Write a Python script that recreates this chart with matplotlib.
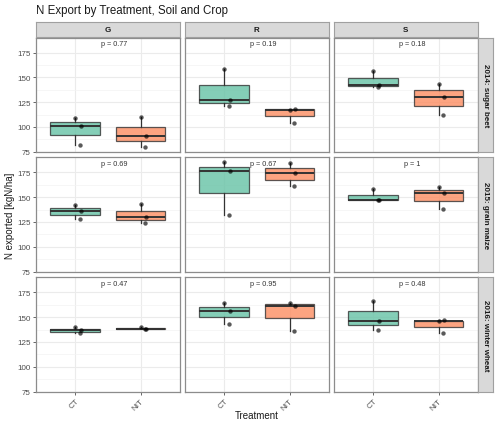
# Boxplots de N exportado por tratamiento, suelo y cultivo (facet grid estilo ggplot)
import matplotlib
matplotlib.use("Agg")
import matplotlib.pyplot as plt
import numpy as np

plt.rcParams['font.family'] = ['Liberation Sans', 'DejaVu Sans']

# Datos (3 repeticiones por caja)
soils = ["G", "R", "S"]
crops = ["2014: sugar beet", "2015: grain maize", "2016: winter wheat"]
treatments = ["CT", "NIT"]

ct_2014 = [[109, 101, 82], [158.2, 127, 120.7], [156.5, 142.8, 140.4]]
nit_2014 = [[110, 90.8, 80], [117.6, 118, 104], [143.4, 130.3, 111.6]]
ct_2015 = [[142, 136.2, 127.7], [185.8, 176, 132], [158, 147, 147.2]]
nit_2015 = [[143, 130, 124], [185, 174.3, 161], [160, 154, 138.2]]
ct_2016 = [[140.4, 136.7, 133.6], [164.4, 156.7, 143.5], [165.9, 146.5, 137.4]]
nit_2016 = [[140.2, 137.7, 138.5], [164.1, 161.8, 136.4], [146.5, 146.7, 134.3]]

ct_values = [ct_2014, ct_2015, ct_2016]
nit_values = [nit_2014, nit_2015, nit_2016]

p_values = [["p = 0.77", "p = 0.19", "p = 0.18"],
            ["p = 0.69", "p = 0.67", "p = 1"],
            ["p = 0.47", "p = 0.95", "p = 0.48"]]

colors = ["#66c2a5", "#fc8d62"]
jitter = [0.0, 0.09, 0.07]

W, H = 500, 427
fig = plt.figure(figsize=(W / 100, H / 100), dpi=100)


def px_axes(x0, y0, w, h):
    return fig.add_axes([x0 / W, 1 - (y0 + h) / H, w / W, h / H])


col_x = [36, 185, 334]
row_y = [38.5, 158.3, 278.3]
pw, ph = 143.7, 114.5

for i in range(3):
    for j in range(3):
        ax = px_axes(col_x[j], row_y[i], pw, ph)
        data = [ct_values[i][j], nit_values[i][j]]
        bp = ax.boxplot(data, positions=[1, 2], widths=0.76, patch_artist=True,
                        showfliers=False, whis=1.5, showcaps=False,
                        medianprops=dict(color="#333333", linewidth=1.4),
                        whiskerprops=dict(color="#333333", linewidth=0.9),
                        boxprops=dict(edgecolor="#333333", linewidth=0.9),
                        zorder=3)
        for patch, c in zip(bp["boxes"], colors):
            patch.set_facecolor(c)
            patch.set_alpha(0.8)
            patch.set_edgecolor("#333333")
        for k, vals in enumerate(data):
            xs = [k + 1 + jitter[m] for m in range(len(vals))]
            ax.scatter(xs, vals, s=10, color="black", alpha=0.65,
                       linewidths=0, zorder=4)
        ax.text(1.6, 184, p_values[i][j], ha="center", va="center",
                fontsize=5.2, color="#333333")

        ax.set_xlim(0.4, 2.6)
        ax.set_ylim(74.7, 190.3)
        ax.set_yticks([75, 100, 125, 150, 175])
        ax.set_yticks([87.5, 112.5, 137.5, 162.5], minor=True)
        ax.set_xticks([1, 2])
        ax.grid(True, which="major", color="#ebebeb", linewidth=0.8, zorder=0)
        ax.grid(True, which="minor", axis="y", color="#f3f3f3",
                linewidth=0.5, zorder=0)
        ax.set_axisbelow(True)
        for sp in ax.spines.values():
            sp.set_color("#8c8c8c")
            sp.set_linewidth(0.9)
        ax.tick_params(which="minor", length=0)
        ax.tick_params(which="major", length=2.5, width=0.6, color="#4d4d4d",
                       labelsize=5.8, labelcolor="#4d4d4d", pad=1.5)
        if j > 0:
            ax.tick_params(axis="y", length=0, labelleft=False)
        if i < 2:
            ax.tick_params(axis="x", length=0, labelbottom=False)
        else:
            ax.set_xticklabels(treatments, rotation=45, ha="right",
                               rotation_mode="anchor")

# Tiras superiores (suelos)
for j, s in enumerate(soils):
    sax = px_axes(col_x[j], 23, pw, 15)
    sax.set_facecolor("#d9d9d9")
    sax.set_xticks([])
    sax.set_yticks([])
    for sp in sax.spines.values():
        sp.set_color("#a0a0a0")
        sp.set_linewidth(0.8)
    sax.text(0.5, 0.5, s, ha="center", va="center", fontsize=5.8,
             fontweight="bold", color="#1a1a1a", transform=sax.transAxes)

# Tiras laterales (cultivos)
for i, c in enumerate(crops):
    sax = px_axes(477.7, row_y[i], 15.5, ph)
    sax.set_facecolor("#d9d9d9")
    sax.set_xticks([])
    sax.set_yticks([])
    for sp in sax.spines.values():
        sp.set_color("#a0a0a0")
        sp.set_linewidth(0.8)
    sax.text(0.5, 0.5, c, ha="center", va="center", rotation=-90,
             fontsize=5.8, fontweight="bold", color="#1a1a1a",
             transform=sax.transAxes)

fig.text(36.5 / W, 1 - 11 / H, "N Export by Treatment, Soil and Crop",
         ha="left", va="center", fontsize=8.3, color="#1a1a1a")
fig.text(10 / W, 1 - 215.6 / H, "N exported [kgN/ha]", rotation=90,
         ha="center", va="center", fontsize=7, color="#1a1a1a")
fig.text(257 / W, 1 - 416.5 / H, "Treatment", ha="center", va="center",
         fontsize=7, color="#1a1a1a")

fig.savefig("out.png", dpi=100)
